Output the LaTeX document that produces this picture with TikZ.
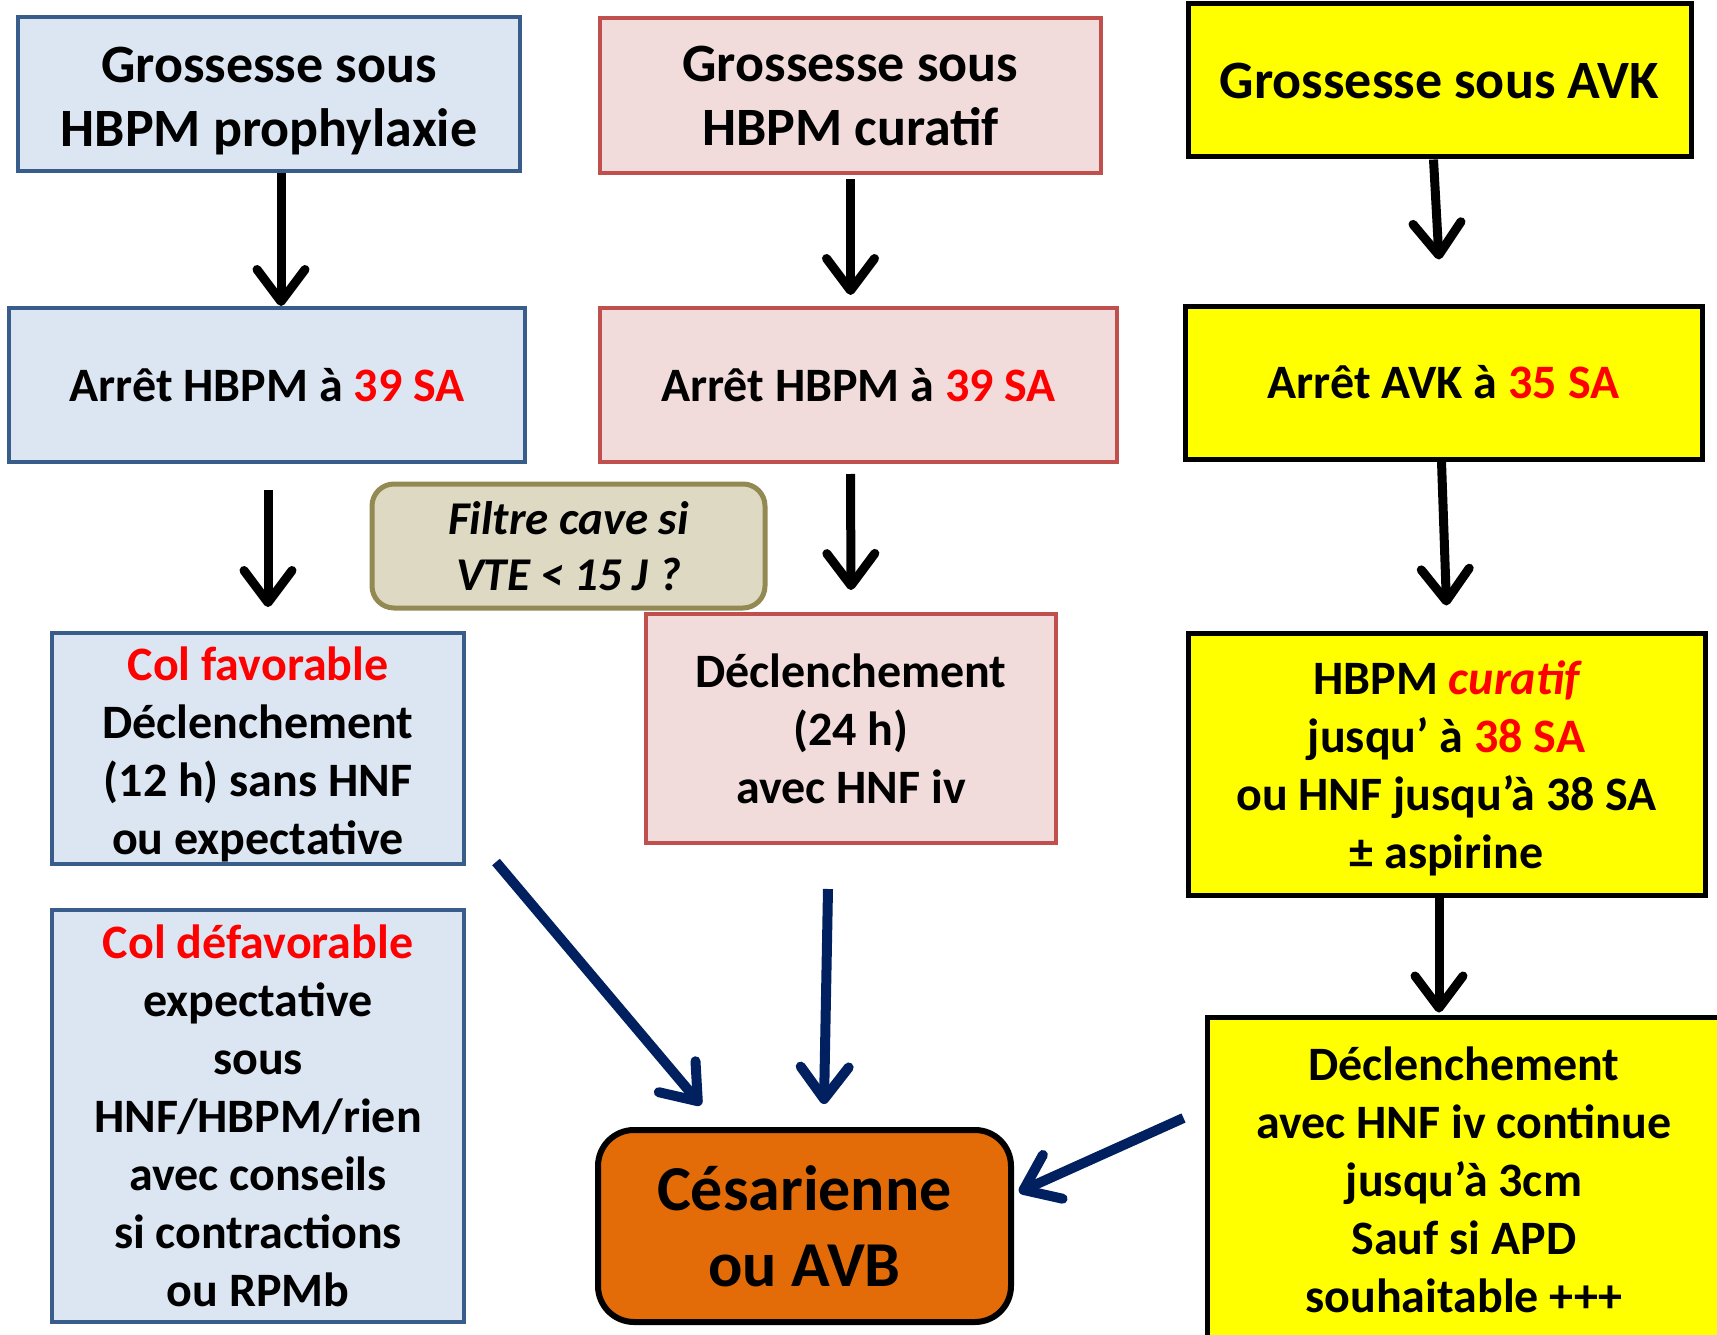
\documentclass[tikz,border=0pt]{standalone}
\usepackage{fontspec}
\setmainfont{Carlito}
\usetikzlibrary{arrows.meta}
\definecolor{bluefill}{HTML}{DCE6F2}
\definecolor{blueline}{HTML}{385D8A}
\definecolor{redfill}{HTML}{F2DCDB}
\definecolor{redline}{HTML}{C0504D}
\definecolor{yel}{HTML}{FFFF00}
\definecolor{olivefill}{HTML}{DDD9C3}
\definecolor{oliveline}{HTML}{938953}
\definecolor{orangefill}{HTML}{E36C09}
\definecolor{navy}{HTML}{002060}
\definecolor{txtred}{HTML}{FF0000}
\newcommand{\rd}[1]{\textcolor{txtred}{#1}}
\begin{document}
\begin{tikzpicture}[x=1pt,y=-1pt,
  box/.style={draw, align=center, inner sep=0pt},
  bluebox/.style={box, fill=bluefill, draw=blueline, line width=4pt},
  redbox/.style={box, fill=redfill, draw=redline, line width=4pt},
  yelbox/.style={box, fill=yel, draw=black, line width=5pt},
  titlefont/.style={font=\fontsize{54}{64}\selectfont\bfseries},
  midfont/.style={font=\fontsize{48}{58}\selectfont\bfseries},
  bodyfont/.style={font=\fontsize{48}{58}\selectfont\bfseries},
  sz/.style 2 args={minimum width=#1, minimum height=#2},
  blk/.style={draw=black, line width=9pt, -{Straight Barb[length=32pt,width=48pt,round]}},
  nav/.style={draw=navy, line width=10pt, -{Straight Barb[length=32pt,width=48pt,round]}}
]
\useasboundingbox (0,0) rectangle (1717,1335);
\fill[white] (0,0) rectangle (1717,1335);

% left column
\node[bluebox, titlefont, sz={502pt}{154pt}] (pb1) at (269,94) {\rule{0pt}{49pt}Grossesse sous\\HBPM prophylaxie};
\node[bluebox, midfont, sz={516pt}{154pt}] (pb2) at (267,385) {Arrêt HBPM à \rd{39 SA}};
\node[bluebox, bodyfont, sz={412pt}{231pt}] (cf) at (258,748.5) {\rule{0pt}{46pt}\rd{Col favorable}\\Déclenchement\\(12 h) sans HNF\\ou expectative};
\node[bluebox, bodyfont, sz={412pt}{412pt}] (cd) at (258,1116) {\rd{Col défavorable}\\expectative\\sous\\HNF/HBPM/rien\\avec conseils\\si contractions\\ou RPMb};

% middle column
\node[redbox, titlefont, sz={501pt}{155pt}] (pr1) at (850.5,95.5) {Grossesse sous\\HBPM curatif};
\node[redbox, midfont, sz={517pt}{154pt}] (pr2) at (858.5,385) {Arrêt HBPM à \rd{39 SA}};
\node[redbox, bodyfont, sz={410pt}{229pt}] (pr3) at (851,728.5) {Déclenchement\\(24 h)\\avec HNF iv};
\node[box, fill=olivefill, draw=oliveline, line width=5pt, rounded corners=22pt,
      font=\fontsize{47}{56}\selectfont\bfseries\itshape, sz={393pt}{124pt}] (filt) at (568.5,546) {Filtre cave si\\VTE < 15 J ?};
\node[box, fill=orangefill, draw=black, line width=6pt, rounded corners=36pt,
      font=\fontsize{64}{76}\selectfont\bfseries, sz={413pt}{192pt}] (ces) at (804.5,1226) {Césarienne\\ou AVB};

% right column
\node[yelbox, titlefont, sz={503pt}{153pt}] (py1) at (1439.5,80.5) {Grossesse sous AVK};
\node[yelbox, midfont, sz={517pt}{153pt}] (py2) at (1443.5,382.5) {Arrêt AVK à \rd{35 SA}};
\node[yelbox, bodyfont, sz={517pt}{262pt}] (py3) at (1446.5,764) {\rule{0pt}{43pt}HBPM \rd{\itshape curatif}\\jusqu’ à \rd{38 SA}\\ou HNF jusqu’à 38 SA\\± aspirine};
\node[yelbox, bodyfont, sz={514pt}{326pt}] (py4) at (1464,1180) {Déclenchement\\avec HNF iv continue\\jusqu’à 3cm\\Sauf si APD\\souhaitable +++};

% black arrows
\draw[blk] ([xshift=12pt]pb1.south) -- ([xshift=14pt]pb2.north);
\draw[blk] ([xshift=1pt,yshift=-26pt]pb2.south) -- ([xshift=10pt,yshift=24pt]cf.north);
\draw[blk] ([yshift=-4pt]pr1.south) -- ([xshift=-8pt,yshift=11pt]pr2.north);
\draw[blk] ([xshift=-8pt,yshift=-10pt]pr2.south) -- ([yshift=22pt]pr3.north);
\draw[blk] ([xshift=-6pt]py1.south) -- ([xshift=-4.5pt,yshift=44pt]py2.north);
\draw[blk] ([xshift=-2pt]py2.south) -- ([yshift=25pt]py3.north);
\draw[blk] ([xshift=-7.5pt]py3.south) -- ([xshift=-25pt,yshift=2pt]py4.north);

% navy arrows
\draw[nav] ([xshift=30pt,yshift=4pt]cf.south east) -- ([xshift=106pt,yshift=22pt]ces.north west);
\draw[nav] ([xshift=-23pt,yshift=-44pt]pr3.south) -- ([xshift=19.5pt,yshift=23pt]ces.north);
\draw[nav] ([xshift=-21pt,yshift=62pt]py4.west) -- ([xshift=5pt,yshift=34pt]ces.east);
\end{tikzpicture}
\end{document}
